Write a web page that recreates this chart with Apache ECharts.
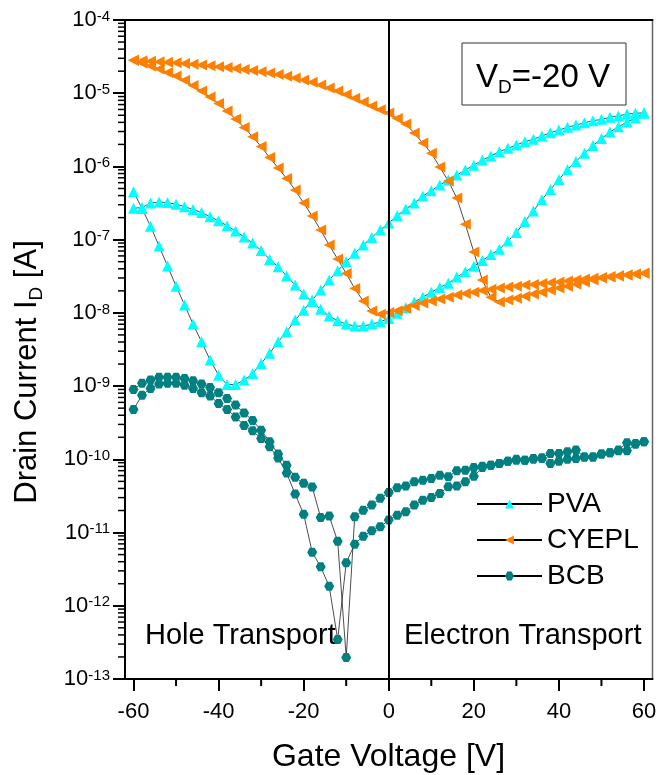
<!DOCTYPE html>
<html>
<head>
<meta charset="utf-8">
<script src="https://cdn.jsdelivr.net/npm/echarts@6/dist/echarts.min.js"></script>
<style>
  html, body { margin: 0; padding: 0; background: #fff; }
  #chart { width: 659px; height: 775px; }
</style>
</head>
<body>
<div id="chart"></div>
<script>
// Gate-voltage sweep points (V), -60 V to +60 V in 2 V steps
const GATE_V = [-60, -58, -56, -54, -52, -50, -48, -46, -44, -42,
                -40, -38, -36, -34, -32, -30, -28, -26, -24, -22,
                -20, -18, -16, -14, -12, -10, -8, -6, -4, -2,
                0, 2, 4, 6, 8, 10, 12, 14, 16, 18,
                20, 22, 24, 26, 28, 30, 32, 34, 36, 38,
                40, 42, 44, 46, 48, 50, 52, 54, 56, 58,
                60];

// Drain current (A). "_FWD" = sweep toward +60 V, "_REV" = return sweep.
// Both lists are ordered from -60 V to +60 V.
const PVA_FWD = [4.51e-7, 2.66e-7, 1.53e-7, 8.18e-8, 4.36e-8, 2.32e-8, 1.28e-8, 7.03e-9, 4.03e-9, 2.27e-9,
                 1.41e-9, 1.05e-9, 1.05e-9, 1.21e-9, 1.49e-9, 2.04e-9, 2.80e-9, 4.03e-9, 5.52e-9, 7.97e-9,
                 1.09e-8, 1.50e-8, 2.05e-8, 2.81e-8, 3.76e-8, 4.99e-8, 6.50e-8, 8.44e-8, 1.07e-7, 1.35e-7,
                 1.69e-7, 2.13e-7, 2.62e-7, 3.16e-7, 3.94e-7, 4.66e-7, 5.57e-7, 6.52e-7, 7.63e-7, 8.93e-7,
                 1.04e-6, 1.22e-6, 1.39e-6, 1.59e-6, 1.77e-6, 1.96e-6, 2.18e-6, 2.35e-6, 2.60e-6, 2.89e-6,
                 3.14e-6, 3.42e-6, 3.68e-6, 3.95e-6, 4.21e-6, 4.40e-6, 4.69e-6, 4.89e-6, 5.20e-6, 5.31e-6,
                 5.42e-6];
const PVA_REV = [2.68e-7, 2.75e-7, 3.16e-7, 3.26e-7, 3.21e-7, 3.05e-7, 2.82e-7, 2.59e-7, 2.35e-7, 2.06e-7,
                 1.81e-7, 1.55e-7, 1.31e-7, 1.09e-7, 8.99e-8, 7.10e-8, 5.38e-8, 4.27e-8, 3.18e-8, 2.40e-8,
                 1.81e-8, 1.43e-8, 1.12e-8, 9.04e-9, 7.80e-9, 7.03e-9, 6.60e-9, 6.60e-9, 7.03e-9, 7.56e-9,
                 8.41e-9, 9.90e-9, 1.18e-8, 1.41e-8, 1.64e-8, 1.92e-8, 2.22e-8, 2.53e-8, 3.08e-8, 3.64e-8,
                 4.32e-8, 5.18e-8, 6.26e-8, 7.37e-8, 9.57e-8, 1.25e-7, 1.77e-7, 2.46e-7, 3.51e-7, 4.83e-7,
                 6.62e-7, 9.01e-7, 1.17e-6, 1.52e-6, 1.93e-6, 2.40e-6, 2.95e-6, 3.49e-6, 4.04e-6, 4.58e-6,
                 5.31e-6];

const CYEPL_FWD = [2.84e-5, 2.78e-5, 2.73e-5, 2.69e-5, 2.64e-5, 2.60e-5, 2.55e-5, 2.49e-5, 2.43e-5, 2.37e-5,
                   2.30e-5, 2.24e-5, 2.17e-5, 2.11e-5, 2.04e-5, 1.97e-5, 1.89e-5, 1.80e-5, 1.71e-5, 1.61e-5,
                   1.51e-5, 1.41e-5, 1.29e-5, 1.18e-5, 1.07e-5, 9.60e-6, 8.51e-6, 7.58e-6, 6.68e-6, 5.96e-6,
                   5.37e-6, 4.51e-6, 3.80e-6, 2.86e-6, 2.09e-6, 1.52e-6, 9.80e-7, 6.32e-7, 3.70e-7, 1.63e-7,
                   6.77e-8, 2.81e-8, 1.64e-8, 1.41e-8, 1.50e-8, 1.58e-8, 1.69e-8, 1.81e-8, 1.92e-8, 2.05e-8,
                   2.18e-8, 2.32e-8, 2.47e-8, 2.64e-8, 2.81e-8, 2.99e-8, 3.08e-8, 3.18e-8, 3.28e-8, 3.39e-8,
                   3.47e-8];
const CYEPL_REV = [2.80e-5, 2.59e-5, 2.35e-5, 2.14e-5, 1.92e-5, 1.72e-5, 1.50e-5, 1.27e-5, 1.07e-5, 8.87e-6,
                   7.23e-6, 5.71e-6, 4.44e-6, 3.40e-6, 2.55e-6, 1.87e-6, 1.32e-6, 9.50e-7, 6.84e-7, 4.76e-7,
                   3.16e-7, 2.10e-7, 1.35e-7, 8.44e-8, 5.43e-8, 3.44e-8, 2.15e-8, 1.45e-8, 1.06e-8, 9.60e-9,
                   1.01e-8, 1.07e-8, 1.16e-8, 1.26e-8, 1.36e-8, 1.45e-8, 1.55e-8, 1.64e-8, 1.75e-8, 1.84e-8,
                   1.92e-8, 2.02e-8, 2.11e-8, 2.18e-8, 2.25e-8, 2.32e-8, 2.40e-8, 2.45e-8, 2.51e-8, 2.58e-8,
                   2.65e-8, 2.72e-8, 2.81e-8, 2.90e-8, 2.97e-8, 3.05e-8, 3.13e-8, 3.21e-8, 3.30e-8, 3.39e-8,
                   3.48e-8];

const BCB_FWD = [4.8e-10, 7.5e-10, 9.3e-10, 1.07e-9, 1.09e-9, 1.09e-9, 1.03e-9, 9.3e-10, 8.1e-10, 7.3e-10,
                 5.8e-10, 4.8e-10, 3.8e-10, 2.9e-10, 2.45e-10, 1.93e-10, 1.48e-10, 1.04e-10, 6.5e-11, 3.35e-11,
                 1.78e-11, 5.4e-12, 3.4e-12, 1.85e-12, 3.46e-13, 3.86e-12, 6.95e-12, 8.9e-12, 1.06e-11, 1.20e-11,
                 1.48e-11, 1.73e-11, 1.92e-11, 2.37e-11, 2.77e-11, 3.02e-11, 3.42e-11, 4.21e-11, 4.31e-11, 4.93e-11,
                 5.89e-11, 7.75e-11, 8.3e-11, 8.79e-11, 9.45e-11, 9.75e-11, 9.75e-11, 1.00e-10, 1.03e-10, 8.79e-11,
                 9.45e-11, 1.00e-10, 1.03e-10, 1.08e-10, 1.08e-10, 1.18e-10, 1.23e-10, 1.31e-10, 1.31e-10, 1.61e-10,
                 1.74e-10];
const BCB_REV = [9.0e-10, 1.09e-9, 1.21e-9, 1.32e-9, 1.32e-9, 1.32e-9, 1.27e-9, 1.18e-9, 1.07e-9, 9.6e-10,
                 8.1e-10, 6.8e-10, 5.5e-10, 4.3e-10, 3.4e-10, 2.5e-10, 1.74e-10, 1.18e-10, 8.3e-11, 5.7e-11,
                 4.7e-11, 4.2e-11, 1.60e-11, 1.68e-11, 7.6e-12, 1.97e-13, 1.64e-11, 2.02e-11, 2.37e-11, 2.95e-11,
                 3.53e-11, 4.08e-11, 4.31e-11, 4.93e-11, 5.20e-11, 5.48e-11, 6.08e-11, 5.77e-11, 6.97e-11, 7.12e-11,
                 7.75e-11, 8.07e-11, 8.3e-11, 8.79e-11, 9.45e-11, 1.00e-10, 9.75e-11, 1.03e-10, 1.05e-10, 1.20e-10,
                 1.20e-10, 1.27e-10, 1.34e-10, 1.08e-10, 1.08e-10, 1.18e-10, 1.23e-10, 1.34e-10, 1.68e-10, 1.65e-10,
                 1.74e-10];

// Axis ticks
const X_MIN = -62, X_MAX = 62, Y_MIN = 1e-13, Y_MAX = 1e-4;
const X_TICKS = [-60, -40, -20, 0, 20, 40, 60];
const X_MINOR = [-50, -30, -10, 10, 30, 50];
const Y_TICKS = [1e-13, 1e-12, 1e-11, 1e-10, 1e-9, 1e-8, 1e-7, 1e-6, 1e-5, 1e-4];
const Y_MINOR = [];
Y_TICKS.slice(0, -1).forEach(d => { for (let m = 2; m <= 9; m++) Y_MINOR.push(d * m); });

const FONT = "'Liberation Sans', Arial, sans-serif";

// One hysteresis loop: forward sweep, then the return sweep back to -60 V
function loop(fwd, rev) {
  const pts = GATE_V.map((v, i) => [v, fwd[i]]);
  for (let i = GATE_V.length - 1; i >= 0; i--) pts.push([GATE_V[i], rev[i]]);
  return pts;
}

const HEXAGON = 'path://M-1,0L-0.5,-0.866L0.5,-0.866L1,0L0.5,0.866L-0.5,0.866Z';

const chart = echarts.init(document.getElementById('chart'), null, { renderer: 'canvas' });

const lineBase = {
  type: 'line',
  showSymbol: true,
  lineStyle: { color: '#000', width: 0.7 },
  emphasis: { disabled: true },
  animation: false
};

// Short outward minor tick marks, placed through the axis scales
function minorTicks(name, values, isX) {
  return {
    type: 'custom', name: name, silent: true, clip: false, z: 10,
    data: values.map(v => isX ? [v, Y_MIN] : [X_MIN, v]),
    renderItem: (params, api) => {
      const p = api.coord([api.value(0), api.value(1)]);
      const shape = isX
        ? { x1: p[0], y1: p[1], x2: p[0], y2: p[1] + 7 }
        : { x1: p[0] - 7, y1: p[1], x2: p[0], y2: p[1] };
      return { type: 'line', shape: shape, style: { stroke: '#000', lineWidth: isX ? 2 : 1.5 } };
    }
  };
}

chart.setOption({
  backgroundColor: '#fff',
  animation: false,
  grid: {
    left: 125, right: 6.5, top: 20, bottom: 96,
    show: true, borderColor: '#666', borderWidth: 1.5,
    outerBoundsMode: 'none'
  },
  xAxis: [
    {
      type: 'value', min: X_MIN, max: X_MAX, position: 'bottom',
      axisLine: { show: true, onZero: false, lineStyle: { color: '#000', width: 2 } },
      axisTick: { show: true, customValues: X_TICKS, length: 12, lineStyle: { color: '#000', width: 2 } },
      axisLabel: { show: true, customValues: X_TICKS, margin: 22, fontSize: 22, color: '#000', fontFamily: FONT },
      splitLine: { show: false }
    },
    {
      type: 'value', min: X_MIN, max: X_MAX, position: 'top',
      axisLine: { show: true, onZero: false, lineStyle: { color: '#000', width: 2 } },
      axisTick: { show: false }, axisLabel: { show: false }, splitLine: { show: false }
    }
  ],
  yAxis: [
    {
      type: 'log', logBase: 10, min: Y_MIN, max: Y_MAX, position: 'left',
      axisLine: { show: true, onZero: false, lineStyle: { color: '#000', width: 2 } },
      axisTick: { show: true, customValues: Y_TICKS, length: 12, lineStyle: { color: '#000', width: 2 } },
      axisLabel: {
        show: true, customValues: Y_TICKS, margin: 15, color: '#000', fontFamily: FONT,
        formatter: v => '{b|10}{s|' + Math.round(Math.log10(v)) + '}',
        rich: {
          b: { fontSize: 22, lineHeight: 22, verticalAlign: 'bottom', fontFamily: FONT, color: '#000' },
          s: { fontSize: 15, lineHeight: 15, verticalAlign: 'top', padding: [0, 0, 9, 0], fontFamily: FONT, color: '#000' }
        }
      },
      splitLine: { show: false }
    }
  ],
  legend: {
    data: ['PVA', 'CYEPL', 'BCB'],
    orient: 'vertical',
    left: 471, top: 485,
    itemWidth: 65, itemHeight: 11, itemGap: 8,
    textStyle: { fontSize: 28, color: '#000', fontFamily: FONT },
    selectedMode: false
  },
  series: [
    Object.assign({}, lineBase, {
      name: 'PVA',
      data: loop(PVA_FWD, PVA_REV),
      symbol: 'triangle', symbolSize: 11,
      itemStyle: { color: '#00FFFF' },
      markLine: {
        silent: true, symbol: ['none', 'none'], label: { show: false },
        lineStyle: { color: '#000', width: 2, type: 'solid' },
        data: [{ xAxis: 0 }]
      }
    }),
    Object.assign({}, lineBase, {
      name: 'CYEPL',
      data: loop(CYEPL_FWD, CYEPL_REV),
      symbol: 'triangle', symbolSize: 11, symbolRotate: 90,
      itemStyle: { color: '#FF8000' }
    }),
    Object.assign({}, lineBase, {
      name: 'BCB',
      data: loop(BCB_FWD, BCB_REV),
      symbol: HEXAGON, symbolSize: [10, 9],
      itemStyle: { color: '#008080' }
    }),
    minorTicks('xMinor', X_MINOR, true),
    minorTicks('yMinor', Y_MINOR, false)
  ],
  graphic: [
    {
      type: 'rect', silent: true,
      shape: { x: 462, y: 43, width: 164, height: 62 },
      style: { fill: 'none', stroke: '#333', lineWidth: 1 }
    },
    {
      type: 'text', silent: true, x: 543, y: 79,
      style: {
        text: '{m|V}{d|D}{m|=-20 V}', align: 'center', verticalAlign: 'middle',
        rich: {
          m: { fontSize: 33, lineHeight: 36, verticalAlign: 'top', fontFamily: FONT, fill: '#000' },
          d: { fontSize: 19, lineHeight: 19, verticalAlign: 'bottom', padding: [38, 0, 0, 0], fontFamily: FONT, fill: '#000' }
        }
      }
    },
    {
      type: 'text', silent: true, x: 145, y: 636,
      style: { text: 'Hole Transport', fontSize: 29, fontFamily: FONT, fill: '#000', align: 'left', verticalAlign: 'middle' }
    },
    {
      type: 'text', silent: true, x: 404, y: 636,
      style: { text: 'Electron Transport', fontSize: 29, fontFamily: FONT, fill: '#000', align: 'left', verticalAlign: 'middle' }
    },
    {
      type: 'text', silent: true, x: 388.5, y: 757,
      style: { text: 'Gate Voltage [V]', fontSize: 32, fontFamily: FONT, fill: '#000', align: 'center', verticalAlign: 'middle' }
    },
    {
      type: 'text', silent: true, x: 29, y: 372, rotation: Math.PI / 2,
      style: {
        text: '{m|Drain Current I}{d|D}{m| [A]}', align: 'center', verticalAlign: 'middle',
        rich: {
          m: { fontSize: 31, lineHeight: 34, verticalAlign: 'top', fontFamily: FONT, fill: '#000' },
          d: { fontSize: 19, lineHeight: 19, verticalAlign: 'bottom', padding: [28, 0, 0, 0], fontFamily: FONT, fill: '#000' }
        }
      }
    }
  ]
});
</script>
</body>
</html>
